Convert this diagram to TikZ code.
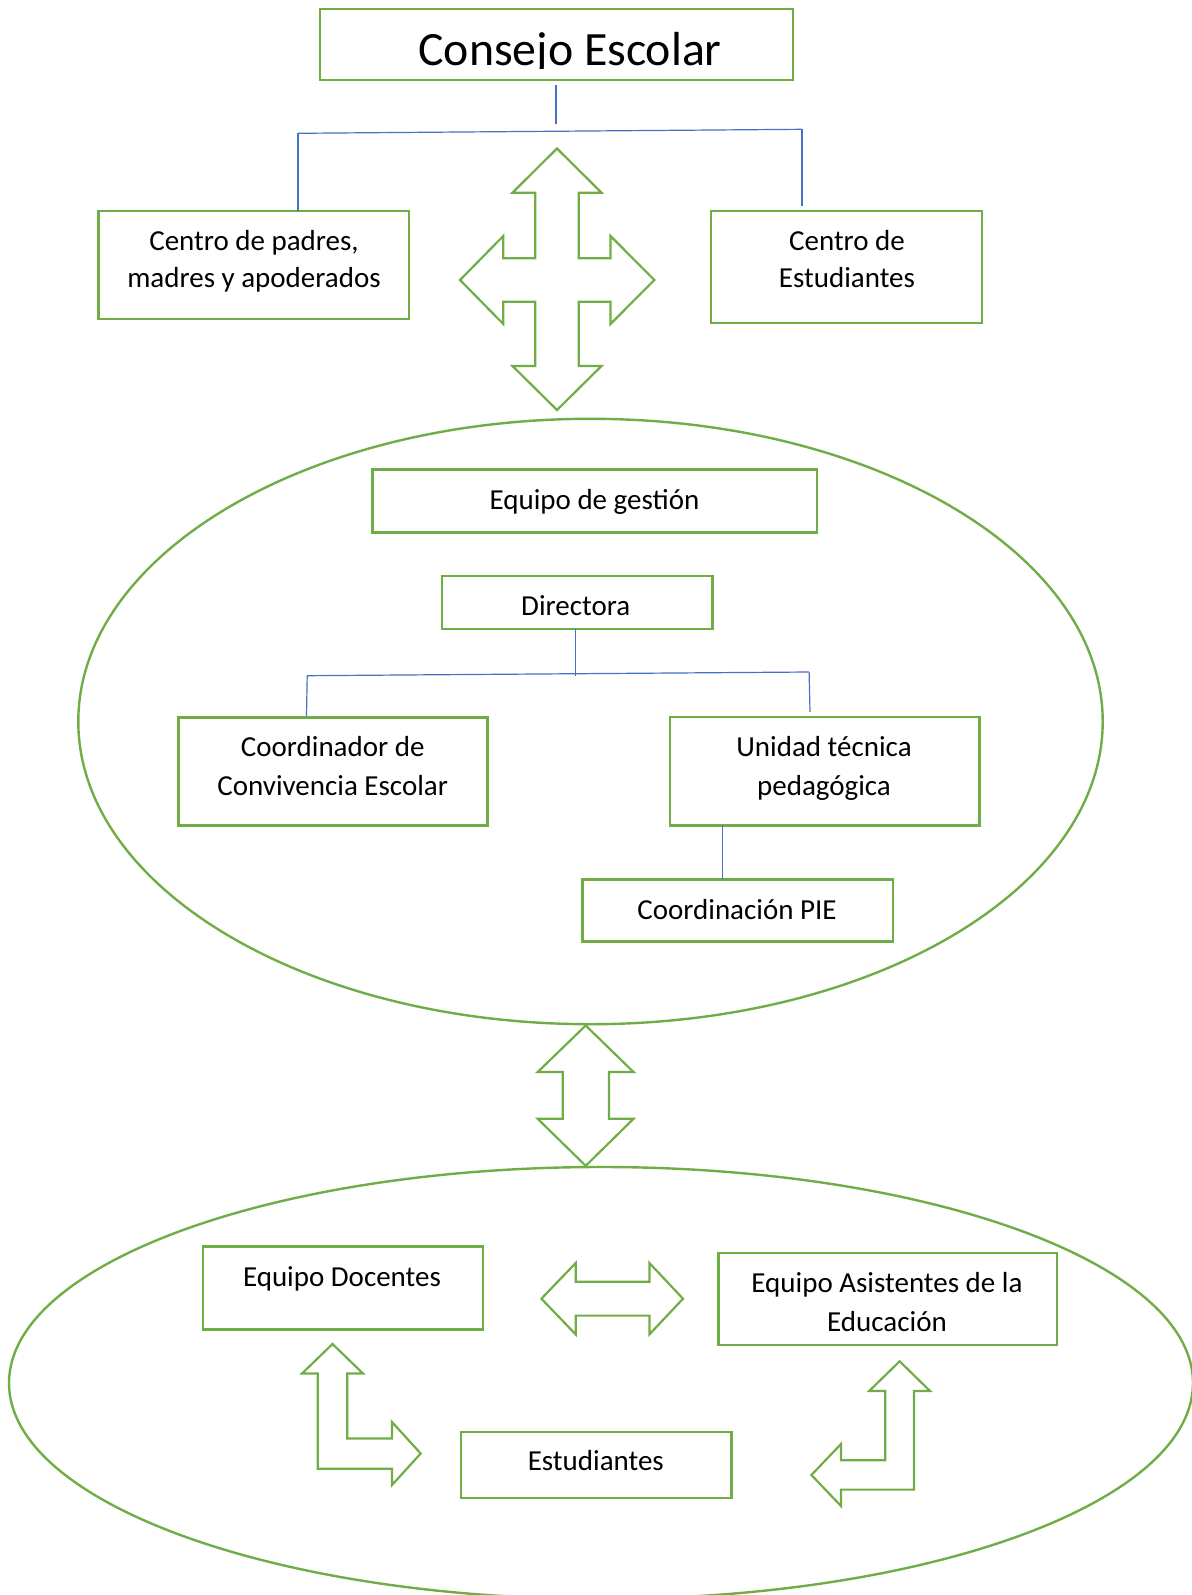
\documentclass[tikz,border=0pt]{standalone}
\usepackage{fontspec}
\setmainfont{Carlito}
\definecolor{ogreen}{HTML}{70AD47}
\definecolor{oblue}{HTML}{4472C4}
\tikzset{
  box/.style={draw=ogreen, line width=1.3pt, rectangle, inner sep=0pt, outer sep=0pt},
  lbl/.style={anchor=base, inner sep=0pt, font=\fontsize{14.5pt}{18pt}\selectfont, text=black},
  ttl/.style={anchor=base, inner sep=0pt, font=\fontsize{23.9pt}{28pt}\selectfont, text=black},
  conn/.style={draw=oblue, line width=0.6pt},
  blockarrow/.style={draw=ogreen, line width=1.1pt, line join=miter, fill=white},
  oval/.style={draw=ogreen, line width=1.2pt}
}
\begin{document}
\begin{tikzpicture}[x={(0.5pt,0pt)}, y={(0pt,-0.5pt)}]
\useasboundingbox (0,0) rectangle (1192,1595);
\clip (0,0) rectangle (1192,1595);

% ellipses
\draw[oval] (590.5,721.5) ellipse [x radius=512.2, y radius=302.7];
\draw[oval] (601,1383) ellipse [x radius=592, y radius=216];

% boxes
\node[box, minimum width=236.5pt, minimum height=35.5pt] (consejo) at (556.5,44.5) {};
\node[box, minimum width=155.25pt, minimum height=54pt] (padres) at (253.75,265) {};
\node[box, minimum width=135.5pt, minimum height=56pt] (estud) at (846.5,267) {};
\node[box, minimum width=222.25pt, minimum height=31.5pt] (gestion) at (594.75,501) {};
\node[box, minimum width=135.35pt, minimum height=26.55pt] (directora) at (577.15,602.35) {};
\node[box, minimum width=154.4pt, minimum height=54.1pt] (coord) at (333.1,771.3) {};
\node[box, minimum width=154.75pt, minimum height=54.2pt] (unidad) at (824.75,771.2) {};
\node[box, minimum width=155.15pt, minimum height=30.9pt] (pie) at (737.65,910.6) {};
\node[box, minimum width=140pt, minimum height=41.75pt] (docentes) at (343,1288) {};
\node[box, minimum width=169.2pt, minimum height=46.1pt] (asist) at (887.8,1298.9) {};
\node[box, minimum width=135.4pt, minimum height=33pt] (estudiantes) at (596.2,1465) {};

% texts
\begin{scope}
\clip (320,9) rectangle (793,68.5);
\node[ttl] (consejoT) at (570,66) {Consejo Escolar};
\end{scope}
\node[lbl] (padresT1) at (254,250) {Centro de padres,};
\node[lbl] (padresT2) at (254,287.5) {madres y apoderados};
\node[lbl] (estudT1) at (847,250) {Centro de};
\node[lbl] (estudT2) at (847,287.5) {Estudiantes};
\node[lbl] (gestionT) at (594.5,509.5) {Equipo de gestión};
\node[lbl] (directoraT) at (575.7,615.5) {Directora};
\node[lbl] (coordT1) at (332.7,756.5) {Coordinador de};
\node[lbl] (coordT2) at (332.7,795.5) {Convivencia Escolar};
\node[lbl] (unidadT1) at (824,756.5) {Unidad técnica};
\node[lbl] (unidadT2) at (824,795.5) {pedagógica};
\node[lbl] (pieT) at (737,919.5) {Coordinación PIE};
\node[lbl] (docentesT) at (342,1286.5) {Equipo Docentes};
\node[lbl] (asistT1) at (887,1292) {Equipo Asistentes de la};
\node[lbl] (asistT2) at (887,1331) {Educación};
\node[lbl] (estudiantesT) at (595.8,1470.5) {Estudiantes};

% blue connectors (top)
\coordinate (ctop) at (556,85.4);
\coordinate (cmid) at (556,124.5);
\coordinate (cleft) at (298,133.3);
\coordinate (cright) at (802,129.3);
\coordinate (clbot) at (298,210.5);
\coordinate (crbot) at (802,205.7);
\draw[conn] (ctop) -- (cmid);
\draw[conn] (cleft) -- (cright);
\draw[conn] (cleft) -- (clbot);
\draw[conn] (cright) -- (crbot);

% blue connectors (management)
\coordinate (dmid) at (575.7,675.7);
\coordinate (dleft) at (307.2,675.7);
\coordinate (dright) at (809.1,672);
\coordinate (dlbot) at (306.5,716);
\coordinate (drbot) at (810,711.8);
\draw[conn] (directora.south -| dmid) -- (dmid);
\draw[conn] (dleft) -- (dright);
\draw[conn] (dleft) -- (dlbot);
\draw[conn] (dright) -- (drbot);
\coordinate (plink) at (722.4,850);
\draw[conn] (unidad.south -| plink) -- (pie.north -| plink);

% four-way arrow
\draw[blockarrow] (557,148.5) -- (601.5,192.7) -- (578.7,192.7) -- (578.7,258.3)
  -- (610.5,258.3) -- (610.5,236) -- (654.3,280) -- (610.5,324) -- (610.5,301.7)
  -- (578.7,301.7) -- (578.7,366) -- (601.5,366) -- (557,410) -- (512.5,366)
  -- (535.3,366) -- (535.3,301.7) -- (503.3,301.7) -- (503.3,324) -- (460,280)
  -- (503.3,236) -- (503.3,258.3) -- (535.3,258.3) -- (535.3,192.7) -- (512.5,192.7) -- cycle;

% vertical double arrow
\draw[blockarrow] (585.7,1025.5) -- (633.5,1072) -- (609,1072) -- (609,1118.8)
  -- (633.5,1118.8) -- (585.7,1165.8) -- (537.7,1118.8) -- (562.7,1118.8)
  -- (562.7,1072) -- (537.7,1072) -- cycle;

% horizontal double arrow
\draw[blockarrow] (541.4,1298.7) -- (575.7,1263) -- (575.7,1281.8) -- (649.4,1281.8)
  -- (649.4,1263) -- (683,1298.7) -- (649.4,1334.4) -- (649.4,1315.6)
  -- (575.7,1315.6) -- (575.7,1334.4) -- cycle;

% left bent arrow
\draw[blockarrow] (332.5,1344) -- (363,1373.5) -- (347.3,1373.5) -- (347.3,1438.5)
  -- (392,1438.5) -- (392,1422) -- (420.7,1453.5) -- (392,1485) -- (392,1468.7)
  -- (317.7,1468.7) -- (317.7,1373.5) -- (302,1373.5) -- cycle;

% right bent arrow
\draw[blockarrow] (899.6,1361.3) -- (930,1391) -- (914,1391) -- (914,1489.6)
  -- (841,1489.6) -- (841,1506) -- (811.4,1475) -- (841,1444) -- (841,1460.3)
  -- (885.2,1460.3) -- (885.2,1391) -- (869.2,1391) -- cycle;
\end{tikzpicture}
\end{document}
